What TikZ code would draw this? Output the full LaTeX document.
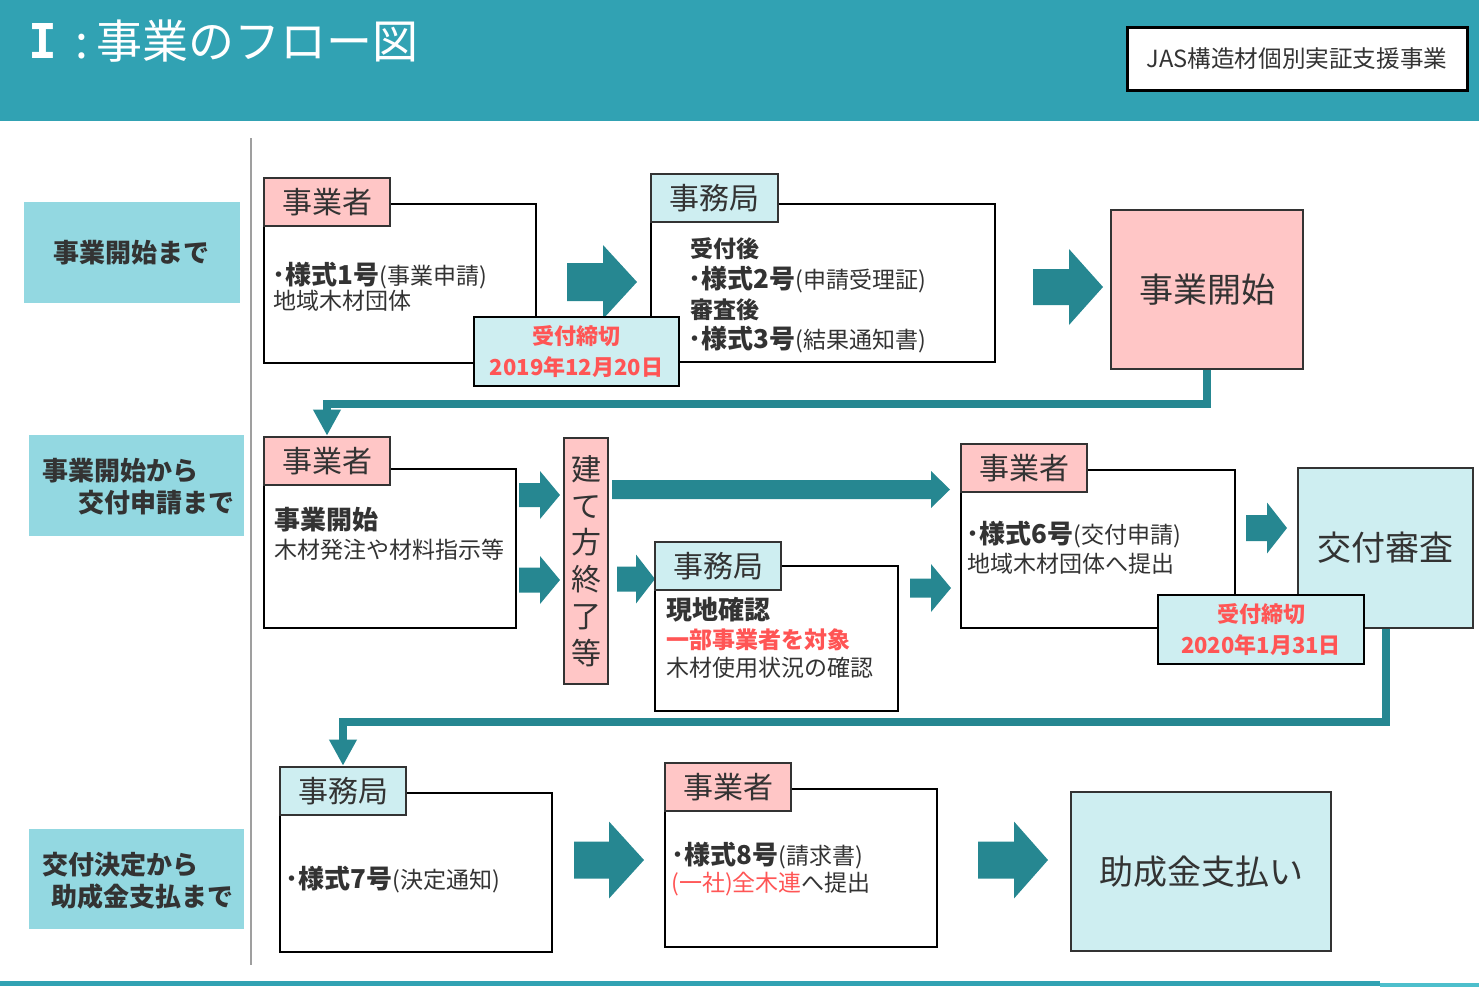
\documentclass[tikz,border=0pt]{standalone}
\usepackage{fontspec}
\setmainfont{Noto Sans CJK JP}
\newfontfamily\monof{DejaVu Sans Mono}
\usetikzlibrary{arrows.meta}
\definecolor{hdr}{HTML}{31A2B3}
\definecolor{hdrtwo}{HTML}{4DBFCC}
\definecolor{arrc}{HTML}{268791}
\definecolor{labc}{HTML}{93D8E1}
\definecolor{lcyan}{HTML}{CEEEF1}
\definecolor{pinkc}{HTML}{FFC6C6}
\definecolor{redc}{HTML}{FF5555}
\definecolor{txt}{HTML}{333333}
\newcommand\rnode[7]{%
  \pgfmathsetmacro\rw{(#5-#3)/2}%
  \pgfmathsetmacro\rh{(#6-#4)/2}%
  \node[#2, minimum width=\rw pt, minimum height=\rh pt] (#1) at ({(#3+#5)/2},{(#4+#6)/2}) {#7};}
\newcommand\barrow[6]{%
  \fill[arrc] ({#1},{#4-#5}) -- ({#2},{#4-#5}) -- ({#2},{#4-#6}) -- ({#3},{#4}) -- ({#2},{#4+#6}) -- ({#2},{#4+#5}) -- ({#1},{#4+#5}) -- cycle;}
\newcommand\ys[2]{{\bfseries\fontsize{13}{16}\selectfont ･様式#1号}(#2)}
\tikzset{
  lab/.style={fill=labc, inner sep=0pt},
  labt/.style={anchor=west, inner sep=0pt, text=txt, font=\bfseries\fontsize{13}{16}\selectfont},
  mainbox/.style={draw=black, line width=1.3pt, fill=white, inner sep=0pt},
  tabp/.style={draw=txt, line width=1.3pt, fill=pinkc, inner sep=0pt, text=txt, font=\fontsize{15}{18}\selectfont},
  tabc/.style={tabp, fill=lcyan},
  dead/.style={draw=black, line width=1.3pt, fill=lcyan, inner sep=0pt, align=center, text=redc, font=\bfseries\fontsize{11}{13.5}\selectfont},
  bigp/.style={draw=txt, line width=0.7pt, fill=pinkc, inner sep=0pt, text=txt, font=\fontsize{17}{20}\selectfont},
  bigc/.style={bigp, fill=lcyan},
  tx/.style={anchor=west, inner sep=0pt, text=txt, font=\fontsize{11.5}{14}\selectfont},
  txb/.style={tx, font=\bfseries\fontsize{11.5}{14}\selectfont},
  txbb/.style={tx, font=\bfseries\fontsize{13}{16}\selectfont},
  conn/.style={draw=arrc, line width=4pt, -{Triangle[width=13pt,length=13pt]}},
}
\begin{document}
\begin{tikzpicture}[x=0.5pt,y=-0.5pt]
\useasboundingbox (0,0) rectangle (1479,987);
% header
\fill[hdr] (0,0) rectangle (1479,121);
\node[text=white, font=\monof\bfseries\fontsize{24}{26}\selectfont, inner sep=0pt] (tI) at (43,41) {I};
\node[anchor=west, text=white, font=\fontsize{23}{26}\selectfont, inner sep=0pt] (title) at (75,41) {:\hspace{4pt}事業のフロー図};
\rnode{jas}{draw=black, line width=1.5pt, fill=white, inner sep=0pt, text=txt, font=\fontsize{11.8}{13}\selectfont}{1127}{27}{1467}{90}{JAS構造材個別実証支援事業}
% bottom line
\fill[hdr] (0,981) rectangle (1380,986);
\fill[hdrtwo] (1380,983) rectangle (1479,987);
% vertical divider
\draw[gray!75, line width=0.6pt] (251,138) -- (251,965);
% left labels
\rnode{lab1}{lab, text=txt, font=\bfseries\fontsize{13}{16}\selectfont}{24}{202}{240}{303}{事業開始まで}
\rnode{lab2}{lab}{29}{435}{244}{536}{}
\node[labt] (lab2a) at (42,471) {事業開始から};
\node[labt] (lab2b) at (78,503) {交付申請まで};
\rnode{lab3}{lab}{29}{829}{244}{929}{}
\node[labt] (lab3a) at (42,865) {交付決定から};
\node[labt] (lab3b) at (51,897) {助成金支払まで};

% ---------- row 1
\rnode{boxA}{mainbox}{264}{204}{536}{363}{}
\rnode{tabA}{tabp}{264}{178}{390}{226}{事業者}
\node[tx] (tA1) at (272,276) {\ys{1}{事業申請}};
\node[tx] (tA2) at (273,301) {地域木材団体};
\barrow{567}{603}{637}{282}{19}{37}
\rnode{boxB}{mainbox}{651}{204}{995}{362}{}
\rnode{tabB}{tabc}{651}{174}{778}{222}{事務局}
\node[txb] (tB1) at (690,249) {受付後};
\node[tx] (tB2) at (688,280) {\ys{2}{申請受理証}};
\node[txb] (tB3) at (690,310) {審査後};
\node[tx] (tB4) at (688,340) {\ys{3}{結果通知書}};
\rnode{deadA}{dead}{474}{317}{679}{386}{受付締切\\[2pt]2019年12月20日}
\barrow{1033}{1069}{1103}{287}{18}{38}
\rnode{kaishi}{bigp}{1111}{210}{1303}{369}{事業開始}

% ---------- row 2
\rnode{boxC}{mainbox}{264}{469}{516}{628}{}
\rnode{tabC}{tabp}{264}{437}{390}{485}{事業者}
\node[txbb] (tC1) at (274,520) {事業開始};
\node[tx] (tC2) at (274,550) {木材発注や材料指示等};
\barrow{519}{540}{560}{495}{12}{24}
\barrow{519}{540}{560}{580}{12.5}{24}
\rnode{tate}{bigp, line width=0.6pt, align=center, font=\fontsize{15}{18.4}\selectfont}{564}{438}{608}{684}{建\\て\\方\\終\\了\\等}
\barrow{612}{931}{950}{489.5}{9.5}{18.5}
\barrow{617}{636}{655}{579}{12.5}{24.5}
\rnode{boxD}{mainbox}{655}{566}{898}{711}{}
\rnode{tabD}{tabc}{655}{542}{781}{590}{事務局}
\node[txbb] (tD1) at (666,610) {現地確認};
\node[txb, text=redc] (tD2) at (666,640) {一部事業者を対象};
\node[tx] (tD3) at (666,668) {木材使用状況の確認};
\barrow{910}{931}{951}{588}{9.5}{24}
\rnode{boxE}{mainbox}{961}{470}{1235}{628}{}
\rnode{tabE}{tabp}{961}{444}{1087}{492}{事業者}
\node[tx] (tE1) at (966,535) {\ys{6}{交付申請}};
\node[tx] (tE2) at (967,564) {地域木材団体へ提出};
\barrow{1246}{1267}{1287}{528}{13}{25.5}
\rnode{shinsa}{bigc}{1298}{468}{1473}{628}{交付審査}
\rnode{deadB}{dead}{1158}{595}{1364}{664}{受付締切\\[2pt]2020年1月31日}

% ---------- row 3
\rnode{boxF}{mainbox}{280}{793}{552}{952}{}
\rnode{tabF}{tabc}{280}{767}{406}{815}{事務局}
\node[tx] (tF1) at (285,880) {\ys{7}{決定通知}};
\barrow{574}{609}{644}{860}{18.5}{38.5}
\rnode{boxG}{mainbox}{665}{789}{937}{947}{}
\rnode{tabG}{tabp}{665}{763}{791}{811}{事業者}
\node[tx] (tG1) at (671,856) {\ys{8}{請求書}};
\node[tx] (tG2) at (671,884) {\textcolor{redc}{(一社)全木連}へ提出};
\barrow{978}{1014}{1048}{860}{18.5}{38.5}
\rnode{shiharai}{bigc}{1071}{792}{1331}{951}{助成金支払い}

% connectors
\draw[conn] (kaishi.south) -- ++(0,34) -| (tabC.north);
\draw[conn] (shinsa.south) -- ++(0,93) -| (tabF.north);
\end{tikzpicture}
\end{document}
